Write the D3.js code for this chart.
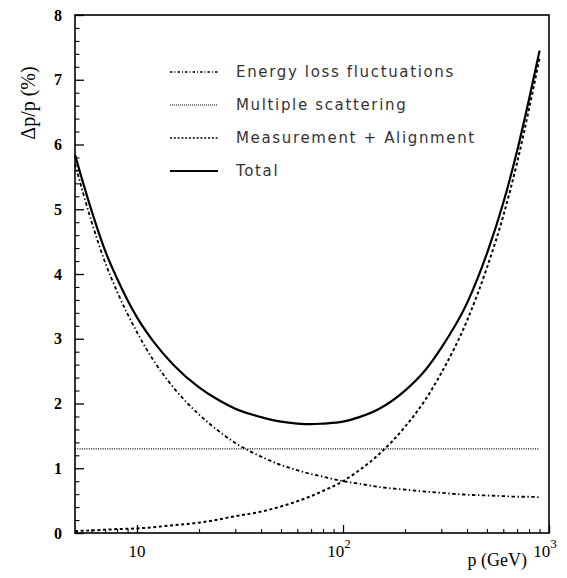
<!DOCTYPE html>
<html>
<head>
<meta charset="utf-8">
<script src="https://cdn.jsdelivr.net/npm/d3@7"></script>
<style>
  html, body { margin: 0; padding: 0; background: #fff; }
  svg { display: block; }
</style>
</head>
<body>
<svg id="chart" width="567" height="578"></svg>
<script>
// Momentum values (GeV) at which each resolution contribution is sampled
const momentum = [5, 6, 7, 8, 10, 12, 15, 20, 25, 30, 40, 50, 60, 70, 80, 100,
                  120, 150, 200, 250, 300, 400, 500, 600, 700, 800, 900];

// Resolution contributions, Δp/p in %
const energyLoss = [5.70, 4.82, 4.18, 3.73, 3.10, 2.67, 2.25, 1.83, 1.57, 1.39, 1.18, 1.05,
                    0.97, 0.91, 0.87, 0.80, 0.76, 0.71, 0.67, 0.64, 0.62, 0.59, 0.58,
                    0.57, 0.56, 0.56, 0.55];
const multipleScattering = [1.30, 1.30, 1.30, 1.30, 1.30, 1.30, 1.30, 1.30, 1.30, 1.30,
                            1.30, 1.30, 1.30, 1.30, 1.30, 1.30, 1.30, 1.30, 1.30, 1.30,
                            1.30, 1.30, 1.30, 1.30, 1.30, 1.30, 1.30];
const measurement = [0.03, 0.04, 0.05, 0.06, 0.07, 0.09, 0.12, 0.16, 0.21, 0.26, 0.33, 0.41,
                     0.49, 0.57, 0.65, 0.80, 0.97, 1.22, 1.64, 2.05, 2.47, 3.28, 4.10,
                     4.90, 5.72, 6.55, 7.34];
const total = [5.84, 4.99, 4.36, 3.93, 3.33, 2.96, 2.60, 2.25, 2.05, 1.92, 1.79, 1.72,
               1.69, 1.68, 1.69, 1.72, 1.79, 1.92, 2.20, 2.51, 2.86, 3.55, 4.32,
               5.10, 5.90, 6.70, 7.45];

const seriesNames = ["Energy loss fluctuations", "Multiple scattering",
                     "Measurement + Alignment", "Total"];
const seriesValues = [energyLoss, multipleScattering, measurement, total];

const yTickValues = [0, 1, 2, 3, 4, 5, 6, 7, 8];
const xLabelValues = [10, 100, 1000];

const svg = d3.select("#chart");
const plotLeft = 75, plotRight = 549, plotTop = 15, plotBottom = 533;

const x = d3.scaleLog().domain([5, 1000]).range([plotLeft, plotRight]);
const y = d3.scaleLinear().domain([0, 8]).range([plotBottom, plotTop]);

const styles = [
  { width: 1.8, dash: "3.5,2.5,1.4,2.5" },
  { width: 1.1, dash: "1,1.3" },
  { width: 2.0, dash: "3,2.6" },
  { width: 2.2, dash: null }
];

// Curves
const line = d3.line()
  .x(d => x(d[0]))
  .y(d => y(d[1]))
  .curve(d3.curveMonotoneX);

seriesValues.forEach((vals, i) => {
  const pts = momentum.map((p, j) => [p, vals[j]]);
  svg.append("path")
    .attr("d", line(pts))
    .attr("fill", "none")
    .attr("stroke", "#000")
    .attr("stroke-width", styles[i].width)
    .attr("stroke-dasharray", styles[i].dash);
});

// Frame
svg.append("rect")
  .attr("x", plotLeft).attr("y", plotTop)
  .attr("width", plotRight - plotLeft).attr("height", plotBottom - plotTop)
  .attr("fill", "none").attr("stroke", "#000").attr("stroke-width", 1.6);

// Left axis ticks (inside), major every 1, minor every 0.2
const yMinor = d3.range(0, 8.001, 0.2).filter(v => Math.abs(v - Math.round(v)) > 1e-6);
svg.append("g")
  .attr("transform", `translate(${plotLeft},0)`)
  .call(d3.axisRight(y).tickValues(yTickValues).tickSize(9).tickFormat(""))
  .call(g => g.select(".domain").remove())
  .call(g => g.selectAll("line").attr("stroke-width", 1.3));
svg.append("g")
  .attr("transform", `translate(${plotLeft},0)`)
  .call(d3.axisRight(y).tickValues(yMinor).tickSize(4.5).tickFormat(""))
  .call(g => g.select(".domain").remove())
  .call(g => g.selectAll("line").attr("stroke-width", 1.1));

// Y tick labels
svg.append("g").selectAll("text")
  .data(yTickValues)
  .join("text")
  .attr("x", 62)
  .attr("y", d => y(d))
  .attr("dy", "0.35em")
  .attr("text-anchor", "end")
  .attr("font-family", "'Liberation Serif', 'DejaVu Serif', serif")
  .attr("font-size", 16)
  .attr("font-weight", "bold")
  .text(d => d);

// Bottom axis ticks (inside, pointing up)
const xMinor = x.ticks().filter(v => !xLabelValues.includes(v) && v > 5 && v < 1000);
svg.append("g")
  .attr("transform", `translate(0,${plotBottom})`)
  .call(d3.axisTop(x).tickValues(xLabelValues).tickSize(8).tickFormat(""))
  .call(g => g.select(".domain").remove())
  .call(g => g.selectAll("line").attr("stroke-width", 1.3));
svg.append("g")
  .attr("transform", `translate(0,${plotBottom})`)
  .call(d3.axisTop(x).tickValues(xMinor).tickSize(4).tickFormat(""))
  .call(g => g.select(".domain").remove())
  .call(g => g.selectAll("line").attr("stroke-width", 1.1));

// X tick labels: 10, 10², 10³
const xl = svg.append("g")
  .attr("font-family", "'Liberation Serif', 'DejaVu Serif', serif")
  .attr("font-size", 17);
xLabelValues.forEach(v => {
  const exp = Math.round(Math.log10(v));
  const t = xl.append("text")
    .attr("x", x(v) + (exp === 1 ? 0 : -4))
    .attr("y", plotBottom + 24)
    .attr("text-anchor", "middle");
  t.append("tspan").text("10");
  if (exp > 1) {
    t.append("tspan").attr("dy", -9).attr("font-size", 13).text(exp);
  }
});

// Axis titles
svg.append("text")
  .attr("x", 527).attr("y", 566)
  .attr("text-anchor", "end")
  .attr("font-family", "'Liberation Serif', 'DejaVu Serif', serif")
  .attr("font-size", 18)
  .text("p (GeV)");

svg.append("text")
  .attr("transform", "translate(28,103) rotate(-90)")
  .attr("text-anchor", "middle")
  .attr("dy", "0.35em")
  .attr("font-family", "'Liberation Serif', 'DejaVu Serif', serif")
  .attr("font-size", 20)
  .text("Δp/p (%)");

// Legend
const legend = svg.append("g");
seriesNames.forEach((name, i) => {
  const cy = 72 + i * 33;
  legend.append("line")
    .attr("x1", 170).attr("x2", 218)
    .attr("y1", cy).attr("y2", cy)
    .attr("stroke", "#000")
    .attr("stroke-width", i === 3 ? 1.8 : (i === 1 ? 1 : 1.3))
    .attr("stroke-dasharray", i === 0 ? "2.5,2,1,2" : (i === 1 ? "1,1" : (i === 2 ? "2,1.8" : null)));
  legend.append("text")
    .attr("x", 236).attr("y", cy)
    .attr("dy", "0.36em")
    .attr("font-family", "'DejaVu Sans', sans-serif")
    .attr("font-size", 15)
    .attr("letter-spacing", 1.65)
    .attr("fill", "#333")
    .text(name);
});
</script>
</body>
</html>
